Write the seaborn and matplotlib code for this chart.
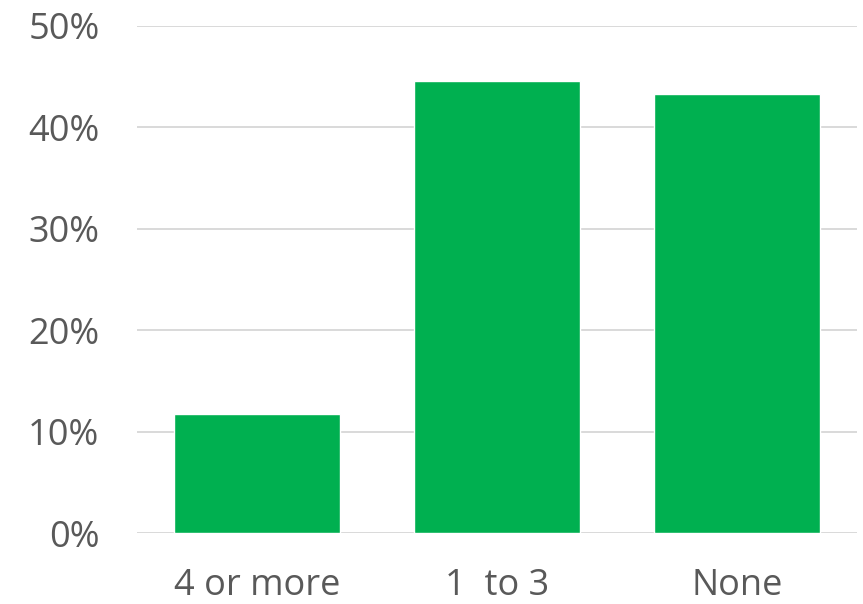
import numpy as np
import pandas as pd
import matplotlib
matplotlib.use("Agg")
import matplotlib.pyplot as plt
from matplotlib.ticker import PercentFormatter
import seaborn as sns

# ---------- Data ----------
categories = ["4 or more", "1  to 3", "None"]
shares = [11.8, 44.6, 43.3]  # percent

df = pd.DataFrame({"group": categories, "share": shares})

sns.set_style("white")
plt.rcParams["font.family"] = ["Open Sans", "DejaVu Sans"]

fig = plt.figure(figsize=(8.63, 6.04), dpi=100)
ax = fig.add_axes([0.1587, 0.117, 0.8344, 0.840])

sns.barplot(data=df, x="group", y="share", color="#00B050", saturation=1,
            width=0.69, ax=ax, zorder=3)

ax.set_ylim(0, 50)
ax.set_xlim(-0.5, 2.5)
ax.set_yticks([0, 10, 20, 30, 40, 50])
ax.yaxis.set_major_formatter(PercentFormatter(decimals=0))
ax.grid(axis="y", color="#D9D9D9", linewidth=1.4, zorder=0)
ax.set_axisbelow(True)

for s in ax.spines.values():
    s.set_visible(False)

ax.tick_params(axis="both", length=0, labelsize=26, labelcolor="#595959")
ax.tick_params(axis="y", pad=27)
ax.tick_params(axis="x", pad=25)
ax.set_xlabel("")
ax.set_ylabel("")

fig.savefig("out.png", dpi=100)
